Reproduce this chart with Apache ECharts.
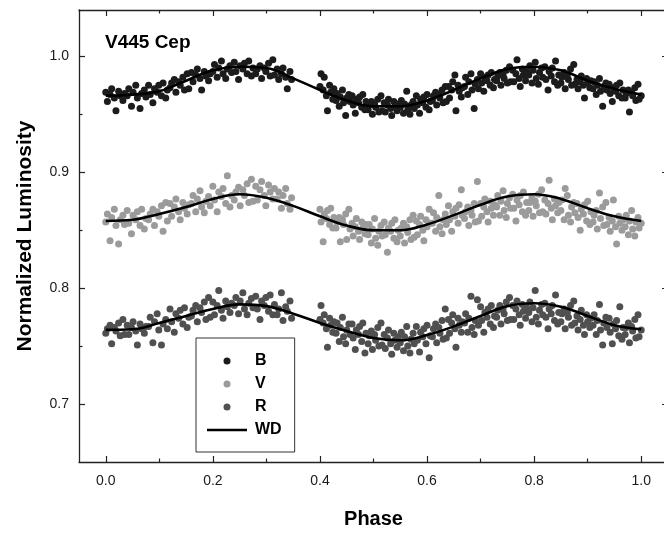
<!DOCTYPE html>
<html>
<head>
<meta charset="utf-8">
<script src="https://cdn.jsdelivr.net/npm/echarts@6/dist/echarts.min.js"></script>
<style>
html,body{margin:0;padding:0;background:#fff;}
#chart{width:664px;height:533px;}
</style>
</head>
<body>
<div id="chart"></div>
<script>
// Observation phases (shared by the three bands)
const phases = [
0,.003,.008,.011,.016,.019,.024,.027,.032,.035,
.040,.043,.048,.051,.056,.059,.064,.067,.072,.075,
.080,.083,.088,.091,.096,.099,.104,.107,.112,.115,
.120,.123,.128,.131,.136,.139,.144,.147,.152,.155,
.160,.163,.168,.171,.176,.179,.184,.187,.192,.195,
.200,.203,.208,.211,.216,.219,.224,.227,.232,.235,
.240,.243,.248,.251,.256,.259,.264,.267,.272,.275,
.280,.283,.288,.291,.296,.299,.304,.307,.312,.315,
.320,.323,.328,.331,.336,.339,.344,.347,
.400,.402,.406,.408,.412,.414,.418,.420,.424,.426,
.430,.432,.436,.438,.442,.444,.448,.450,.454,.456,
.460,.462,.466,.468,.472,.474,.478,.480,.484,.486,
.490,.492,.496,.498,.502,.504,.508,.510,.514,.516,
.520,.522,.526,.528,.532,.534,.538,.540,.544,.546,
.550,.552,.556,.558,.562,.564,.568,.570,.574,.576,
.580,.582,.586,.588,.592,.594,.598,.600,.604,.606,
.610,.612,.616,.618,.622,.624,.628,.630,.634,.636,
.640,.642,.646,.648,.652,.654,.658,.660,.664,.666,
.670,.672,.676,.678,.682,.684,.688,.690,.694,.696,
.700,.702,.706,.708,.712,.714,.718,.720,.724,.726,
.730,.732,.736,.738,.742,.744,.748,.750,.754,.756,
.760,.762,.766,.768,.772,.774,.778,.780,.784,.786,
.790,.792,.796,.798,.802,.804,.808,.810,.814,.816,
.820,.822,.826,.828,.832,.834,.838,.840,.844,.846,
.850,.852,.856,.858,.862,.864,.868,.870,.874,.876,
.880,.882,.886,.888,.892,.894,.898,.900,.904,.906,
.910,.912,.916,.918,.922,.924,.928,.930,.934,.936,
.940,.942,.946,.948,.952,.954,.958,.960,.964,.966,
.970,.972,.976,.978,.982,.984,.988,.990,.994,.996,
1.000
];

const bLum = [
.969,.961,.967,.972,.964,.953,.970,.966,.962,.968,
.966,.972,.957,.969,.975,.964,.955,.968,.971,.965,
.975,.967,.960,.972,.969,.975,.966,.977,.964,.971,
.973,.977,.980,.969,.978,.975,.982,.971,.985,.972,
.986,.978,.984,.989,.981,.971,.987,.983,.979,.985,
.987,.993,.982,.990,.996,.985,.981,.989,.992,.986,
.995,.987,.980,.992,.989,.994,.985,.996,.983,.990,
.985,.989,.992,.981,.990,.987,.994,.983,.997,.984,
.989,.980,.985,.990,.982,.972,.987,.980,
.974,.985,.971,.982,.966,.953,.975,.969,.963,.972,
.962,.968,.957,.965,.971,.960,.949,.964,.967,.961,
.966,.958,.951,.963,.960,.965,.956,.967,.954,.961,
.954,.958,.961,.950,.959,.956,.963,.952,.966,.953,
.960,.952,.958,.963,.955,.949,.961,.957,.953,.959,
.956,.962,.951,.959,.970,.954,.950,.958,.961,.955,
.966,.958,.951,.963,.960,.965,.956,.967,.954,.961,
.962,.966,.969,.958,.967,.964,.971,.960,.974,.961,
.974,.964,.971,.978,.984,.953,.975,.970,.965,.973,
.974,.982,.967,.978,.985,.971,.955,.976,.980,.972,
.985,.977,.970,.982,.979,.984,.975,.986,.973,.980,
.979,.983,.986,.975,.984,.981,.988,.977,.991,.978,
.988,.978,.985,.997,.981,.974,.989,.984,.979,.987,
.984,.992,.977,.988,.995,.981,.976,.986,.990,.982,
.991,.980,.971,.987,.983,.990,.978,.996,.975,.984,
.977,.982,.986,.972,.984,.980,.989,.975,.993,.976,
.980,.972,.978,.983,.975,.964,.981,.977,.973,.979,
.972,.978,.967,.975,.981,.970,.957,.974,.977,.971,
.976,.968,.961,.973,.970,.975,.966,.977,.964,.971,
.964,.968,.971,.952,.969,.966,.973,.962,.976,.963,
.966
];

const vLum = [
.857,.864,.841,.861,.868,.854,.838,.859,.863,.855,
.867,.856,.847,.863,.859,.866,.854,.868,.851,.860,
.859,.864,.868,.854,.866,.862,.871,.849,.874,.858,
.873,.862,.870,.877,.866,.859,.874,.869,.864,.872,
.873,.880,.866,.877,.884,.870,.865,.875,.879,.871,
.888,.876,.866,.883,.879,.886,.873,.897,.870,.880,
.876,.883,.887,.871,.885,.880,.890,.874,.894,.875,
.888,.876,.885,.892,.880,.871,.889,.883,.877,.886,
.877,.883,.869,.880,.886,.873,.868,.878,
.868,.857,.840,.864,.860,.867,.855,.869,.852,.861,
.852,.857,.861,.840,.859,.855,.864,.842,.868,.851,
.856,.845,.853,.860,.849,.842,.857,.852,.847,.855,
.846,.855,.839,.851,.860,.843,.837,.849,.854,.845,
.857,.846,.831,.852,.849,.856,.843,.859,.840,.850,
.845,.852,.856,.839,.853,.848,.859,.842,.863,.844,
.858,.846,.855,.862,.850,.841,.859,.853,.868,.856,
.856,.865,.849,.861,.880,.853,.847,.859,.864,.855,
.871,.859,.849,.866,.862,.869,.856,.872,.885,.863,
.860,.866,.870,.854,.867,.863,.873,.857,.892,.858,
.873,.862,.870,.877,.866,.857,.875,.869,.863,.872,
.870,.880,.863,.875,.884,.867,.861,.873,.878,.869,
.881,.869,.858,.876,.872,.880,.866,.883,.863,.874,
.867,.874,.878,.862,.875,.871,.881,.865,.885,.866,
.876,.864,.873,.893,.869,.859,.877,.871,.865,.874,
.867,.876,.859,.886,.880,.863,.857,.870,.874,.865,
.873,.861,.850,.868,.864,.872,.858,.875,.855,.866,
.857,.863,.867,.851,.882,.860,.870,.854,.874,.855,
.861,.849,.858,.876,.853,.838,.862,.856,.850,.859,
.853,.863,.846,.858,.867,.851,.845,.857,.861,.852,
.856
];

const rLum = [
.761,.765,.768,.752,.766,.763,.770,.759,.773,.760,
.768,.760,.766,.771,.763,.751,.769,.765,.761,.767,
.767,.775,.753,.771,.778,.764,.751,.769,.773,.765,
.782,.771,.762,.778,.774,.781,.769,.783,.766,.775,
.776,.781,.785,.771,.783,.779,.788,.773,.792,.775,
.788,.777,.785,.798,.781,.774,.789,.784,.779,.787,
.785,.792,.778,.789,.796,.782,.777,.787,.791,.783,
.793,.782,.773,.789,.785,.792,.780,.794,.777,.786,
.777,.782,.796,.772,.784,.780,.789,.774,
.773,.785,.770,.777,.765,.749,.774,.768,.762,.771,
.761,.770,.754,.766,.775,.758,.752,.764,.769,.760,
.769,.757,.747,.764,.760,.767,.754,.770,.744,.761,
.752,.759,.763,.747,.760,.755,.766,.750,.770,.751,
.760,.748,.757,.764,.752,.743,.761,.755,.749,.758,
.753,.762,.746,.758,.767,.750,.744,.756,.761,.752,
.767,.755,.745,.762,.758,.765,.752,.768,.740,.759,
.758,.765,.769,.753,.766,.761,.772,.756,.782,.757,
.773,.761,.770,.777,.765,.749,.774,.768,.762,.771,
.770,.778,.762,.774,.793,.766,.760,.772,.790,.768,
.784,.772,.762,.779,.775,.782,.769,.785,.766,.776,
.775,.781,.785,.769,.782,.778,.788,.772,.792,.773,
.785,.773,.782,.789,.777,.768,.786,.780,.774,.783,
.779,.788,.771,.783,.798,.775,.769,.781,.786,.777,
.787,.775,.765,.782,.778,.785,.772,.794,.769,.779,
.771,.778,.782,.765,.779,.775,.785,.768,.789,.770,
.776,.764,.773,.781,.768,.760,.777,.771,.766,.774,
.768,.777,.760,.772,.786,.764,.751,.770,.775,.766,
.774,.762,.752,.769,.765,.772,.759,.784,.756,.766,
.760,.766,.770,.753,.767,.763,.773,.757,.777,.758,
.764
];

// WD model curves
const fitPhase = [0,.05,.10,.15,.20,.25,.30,.35,.40,.45,.50,.55,.60,.65,.70,.75,.80,.85,.90,.95,1.0];
const bFit = [.966,.967,.970,.979,.988,.991,.990,.981,.971,.962,.957,.957,.962,.971,.981,.989,.991,.988,.979,.972,.967];
const vFit = [.858,.859,.864,.870,.877,.881,.878,.871,.862,.854,.850,.850,.855,.863,.872,.879,.881,.877,.869,.862,.858];
const rFit = [.764,.7645,.770,.776,.782,.786,.7845,.778,.770,.763,.757,.755,.7595,.767,.776,.7845,.787,.784,.776,.768,.7645];

const xMajor = [0, 0.2, 0.4, 0.6, 0.8, 1.0];
const xMinor = [0.1, 0.3, 0.5, 0.7, 0.9];
const yMajor = [0.7, 0.8, 0.9, 1.0];
const yMinor = [0.75, 0.85, 0.95];

const FONT = '"Liberation Sans", Arial, Helvetica, sans-serif';
const AXC = '#222';

function pts(vals){ return phases.map((p,i)=>[p, vals[i]]); }
function fit(vals){ return fitPhase.map((p,i)=>[p, vals[i]]); }

function xAx(pos, ticks, len, showLine, showLabel){
  return {
    type:'value', gridIndex:0, position:pos, min:-0.05, max:1.05,
    splitLine:{show:false},
    axisLine:{show:showLine, onZero:false, lineStyle:{color:AXC, width:1.3}},
    axisTick:{show:true, inside:true, length:len, customValues:ticks, lineStyle:{color:AXC, width:1.2}},
    axisLabel:{show:showLabel, customValues:ticks, formatter:v=>Number(v).toFixed(1),
      fontFamily:FONT, fontSize:14, color:'#1a1a1a', margin:12},
    name: showLabel ? 'Phase' : '', nameLocation:'middle', nameGap:47,
    nameTextStyle:{fontFamily:FONT, fontSize:20, fontWeight:'bold', color:'#000'}
  };
}
function yAx(pos, ticks, len, showLine, showLabel){
  return {
    type:'value', gridIndex:0, position:pos, min:0.65, max:1.04,
    splitLine:{show:false},
    axisLine:{show:showLine, onZero:false, lineStyle:{color:AXC, width:1.3}},
    axisTick:{show:true, inside:true, length:len, customValues:ticks, lineStyle:{color:AXC, width:1.2}},
    axisLabel:{show:showLabel, customValues:ticks, formatter:v=>Number(v).toFixed(1),
      fontFamily:FONT, fontSize:14, color:'#1a1a1a', margin:10},
    name: showLabel ? 'Normalized Luminosity' : '', nameLocation:'middle', nameGap:43, nameRotate:90,
    nameTextStyle:{fontFamily:FONT, fontSize:21, fontWeight:'bold', color:'#000'}
  };
}

const chart = echarts.init(document.getElementById('chart'), null, {renderer:'canvas'});
const sym = 7;
const lineIcon = 'path://M0,0L40,0L40,2.6L0,2.6Z';
chart.setOption({
  animation:false,
  backgroundColor:'#fff',
  title:{text:'V445 Cep', left:100, top:28,
    textStyle:{fontFamily:FONT, fontSize:19, fontWeight:'bold', color:'#000'}},
  grid:{left:79, right:-4, top:10, bottom:71, containLabel:false, outerBoundsMode:'none'},
  xAxis:[
    xAx('bottom', xMajor, 6, true, true),
    xAx('bottom', xMinor, 3.5, false, false),
    xAx('top', xMajor, 6, true, false),
    xAx('top', xMinor, 3.5, false, false)
  ],
  yAxis:[
    yAx('left', yMajor, 6, true, true),
    yAx('left', yMinor, 3.5, false, false),
    yAx('right', yMajor, 6, false, false),
    yAx('right', yMinor, 3.5, false, false)
  ],
  legend:{
    orient:'vertical', left:196, top:338,
    data:[{name:'B', icon:'circle'},{name:'V', icon:'circle'},{name:'R', icon:'circle'},{name:'WD', icon:lineIcon}],
    itemWidth:40, itemHeight:7, itemGap:7,
    padding:[15,13,14,11],
    borderColor:'#333', borderWidth:1, backgroundColor:'#fff',
    textStyle:{fontFamily:FONT, fontSize:16, fontWeight:'bold', color:'#000', lineHeight:16, padding:[0,0,0,3]},
    selectedMode:false
  },
  series:[
    {name:'B', type:'scatter', data:pts(bLum), symbolSize:sym, itemStyle:{color:'#1c1c1c', opacity:1}, z:2},
    {name:'V', type:'scatter', data:pts(vLum), symbolSize:sym, itemStyle:{color:'#9b9b9b', opacity:1}, z:2},
    {name:'R', type:'scatter', data:pts(rLum), symbolSize:sym, itemStyle:{color:'#505050', opacity:1}, z:2},
    {name:'WD', type:'line', data:fit(bFit), smooth:0.4, symbol:'none', lineStyle:{color:'#000', width:2.6}, itemStyle:{color:'#000'}, z:5},
    {name:'WD', type:'line', data:fit(vFit), smooth:0.4, symbol:'none', lineStyle:{color:'#000', width:2.6}, itemStyle:{color:'#000'}, z:5},
    {name:'WD', type:'line', data:fit(rFit), smooth:0.4, symbol:'none', lineStyle:{color:'#000', width:2.6}, itemStyle:{color:'#000'}, z:5}
  ]
});
if (phases.length !== bLum.length || phases.length !== vLum.length || phases.length !== rLum.length) {
  console.error('length mismatch', phases.length, bLum.length, vLum.length, rLum.length);
}
</script>
</body>
</html>
